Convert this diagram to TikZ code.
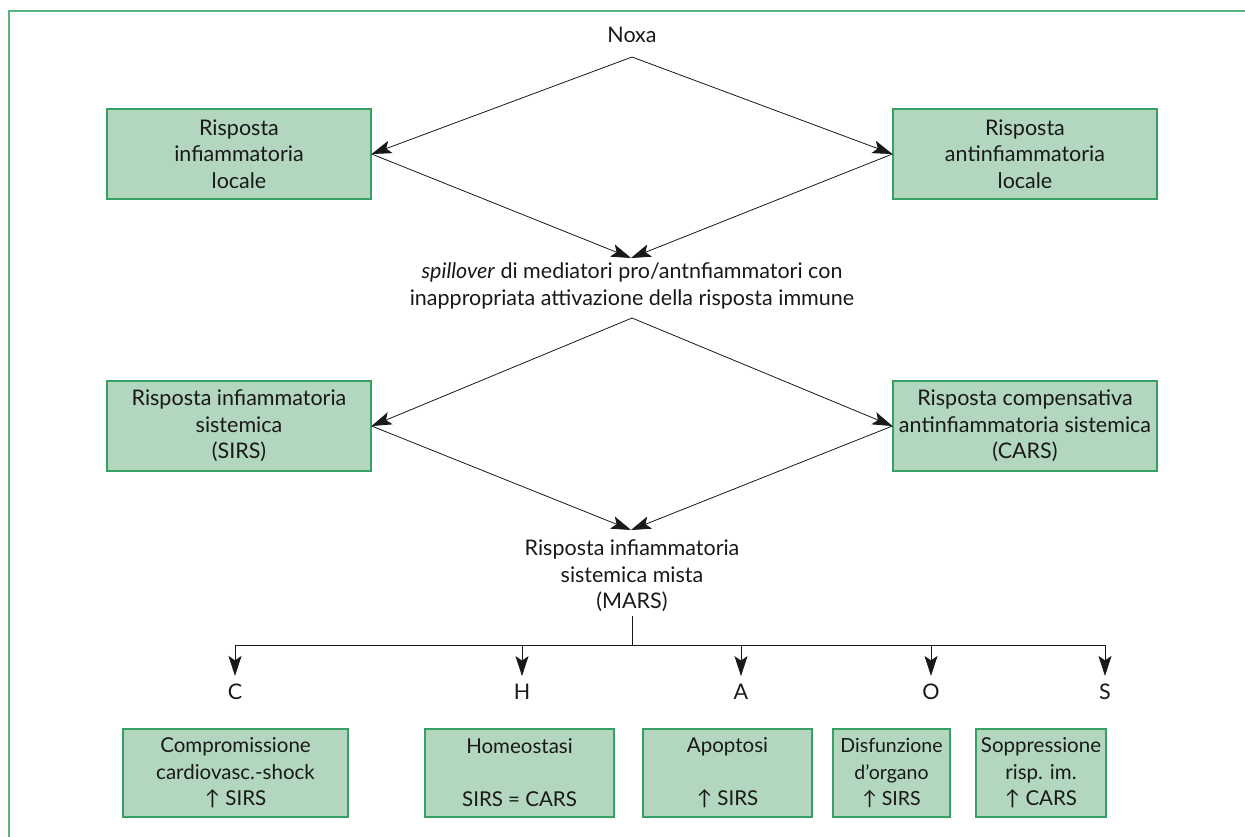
\documentclass[tikz,border=0pt]{standalone}
\usepackage{fontspec}
\setmainfont{Lato}
\usetikzlibrary{arrows.meta}
\definecolor{boxfill}{RGB}{179,214,190}
\definecolor{boxline}{RGB}{55,160,100}
\definecolor{frameline}{RGB}{90,180,130}
\definecolor{txt}{RGB}{25,25,25}
\tikzset{
  gbox/.style={draw=boxline, line width=1.2pt, fill=boxfill, align=center, inner sep=0pt, text=txt, font=\fontsize{21.5}{26.5}\selectfont},
  sbox/.style={gbox, font=\fontsize{20.5}{26.5}\selectfont},
  plain/.style={align=center, inner sep=0pt, text=txt, font=\fontsize{21.5}{26.5}\selectfont},
  arr/.style={-{Stealth[length=20pt,width=13pt,inset=4.5pt]}, line width=0.8pt, draw=txt},
  ln/.style={line width=0.8pt, draw=txt},
}
\begin{document}
\begin{tikzpicture}[x=1pt,y=-1pt]
\useasboundingbox (0,0) rectangle (1245,836);
\fill[white] (0,0) rectangle (1245,836);
\draw[frameline, line width=1.3pt] (9,840) -- (9,11) -- (1250,11);

\node[plain] (noxa) at (632,35) {Noxa};
\coordinate (noxabot) at (632,57);
\node[gbox, minimum width=264pt, minimum height=90pt] (b1) at (239,154) {Risposta\\infiammatoria\\locale};
\node[gbox, minimum width=264pt, minimum height=90pt] (b2) at (1025,154) {Risposta\\antinfiammatoria\\locale};
\draw[arr] (noxabot) -- (b1.east);
\draw[arr] (noxabot) -- (b2.west);

\coordinate (spilltop) at (631,258);
\node[plain] (spill) at (632,286) {\textit{spillover} di mediatori pro/antnfiammatori con\\inappropriata attivazione della risposta immune};
\coordinate (spillbot) at (632,318);
\draw[arr] (b1.east) -- (spilltop);
\draw[arr] (b2.west) -- (spilltop);

\node[gbox, minimum width=264pt, minimum height=90pt] (b3) at (239,426) {Risposta infiammatoria\\sistemica\\(SIRS)};
\node[gbox, minimum width=264pt, minimum height=90pt] (b4) at (1025,426) {Risposta compensativa\\antinfiammatoria sistemica\\(CARS)};
\draw[arr] (spillbot) -- (b3.east);
\draw[arr] (spillbot) -- (b4.west);

\coordinate (marstop) at (631,530);
\node[plain] (mars) at (632,576) {Risposta infiammatoria\\sistemica mista\\(MARS)};
\draw[arr] (b3.east) -- (marstop);
\draw[arr] (b4.west) -- (marstop);

\coordinate (marsbot) at (632,616);
\coordinate (hub) at (632,645);
\coordinate (hc) at (235,645);
\coordinate (hh) at (522,645);
\coordinate (ha) at (741,645);
\coordinate (ho) at (931,645);
\coordinate (hs) at (1105,645);
\draw[ln] (marsbot) -- (hub);
\draw[ln] (hc) -- (hs);

\node[plain, inner sep=8pt] (lc) at (235,692) {C};
\node[plain, inner sep=8pt] (lh) at (522,692) {H};
\node[plain, inner sep=8pt] (la) at (741,692) {A};
\node[plain, inner sep=8pt] (lo) at (931,692) {O};
\node[plain, inner sep=8pt] (ls) at (1105,692) {S};
\draw[arr] (hc) -- (lc);
\draw[arr] (hh) -- (lh);
\draw[arr] (ha) -- (la);
\draw[arr] (ho) -- (lo);
\draw[arr] (hs) -- (ls);

\node[sbox, minimum width=225pt, minimum height=88pt] (bc) at (235.5,773) {Compromissione\\cardiovasc.-shock\\↑ SIRS};
\node[sbox, minimum width=189pt, minimum height=88pt] (bh) at (519.5,773) {Homeostasi\\\strut\\SIRS = CARS};
\node[sbox, minimum width=169pt, minimum height=88pt] (ba) at (727.5,773) {Apoptosi\\\strut\\↑ SIRS};
\node[sbox, minimum width=117pt, minimum height=88pt, font=\fontsize{19.5}{26.5}\selectfont] (bo) at (891.5,773) {Disfunzione\\d’organo\\↑ SIRS};
\node[sbox, minimum width=130pt, minimum height=88pt] (bs) at (1041,773) {Soppressione\\risp. im.\\↑ CARS};
\end{tikzpicture}
\end{document}
